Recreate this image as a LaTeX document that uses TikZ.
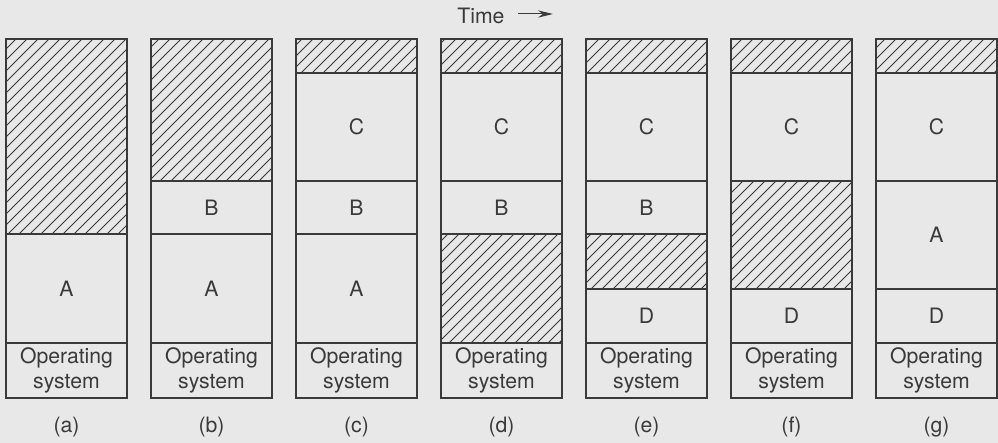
\documentclass[tikz,border=0pt]{standalone}
\usepackage{fontspec}
\setmainfont{TeX Gyre Heros}
\usetikzlibrary{arrows.meta}
\definecolor{bg}{HTML}{E8E8E8}
\definecolor{ink}{HTML}{3A3A3A}
\tikzset{
  boxline/.style={draw=ink,line width=0.9pt},
  hatchline/.style={draw=ink,line width=0.5pt},
  lbl/.style={text=ink,font=\fontsize{10.6}{12.2}\selectfont,inner sep=0pt,align=center},
  tarrow/.style={draw=ink,line width=0.5pt,-{Stealth[length=7.5pt,width=3.6pt]}}
}
\newcommand\hseg[3]{%
  \pgfmathsetmacro\cx{6+145*#1}%
  \begin{scope}
    \clip (\cx,#2) rectangle (\cx+121,#3);
    \foreach \hc in {0,11,...,1430} \draw[hatchline] (\hc-#3,#3) -- (\hc-#2,#2);
  \end{scope}
  \draw[boxline] (\cx,#2) rectangle (\cx+121,#3);}
\newcommand\lseg[5]{%
  \pgfmathsetmacro\cx{6+145*#1}%
  \draw[boxline] (\cx,#2) rectangle (\cx+121,#3);
  \node[lbl] (#5) at (\cx+60.5,{(#2+#3)/2}) {#4};}
\begin{document}
\begin{tikzpicture}[x=0.5pt,y=-0.5pt]
\fill[bg] (0,0) rectangle (998,443);
\useasboundingbox (0,0) rectangle (998,443);
% (a)
\hseg{0}{39}{234}
\lseg{0}{234}{343}{A}{a-A}
\lseg{0}{343}{398}{Operating\\system}{a-os}
% (b)
\hseg{1}{39}{181}
\lseg{1}{181}{234}{B}{b-B}
\lseg{1}{234}{343}{A}{b-A}
\lseg{1}{343}{398}{Operating\\system}{b-os}
% (c)
\hseg{2}{39}{73}
\lseg{2}{73}{181}{C}{c-C}
\lseg{2}{181}{234}{B}{c-B}
\lseg{2}{234}{343}{A}{c-A}
\lseg{2}{343}{398}{Operating\\system}{c-os}
% (d)
\hseg{3}{39}{73}
\lseg{3}{73}{181}{C}{d-C}
\lseg{3}{181}{234}{B}{d-B}
\hseg{3}{234}{343}
\lseg{3}{343}{398}{Operating\\system}{d-os}
% (e)
\hseg{4}{39}{73}
\lseg{4}{73}{181}{C}{e-C}
\lseg{4}{181}{234}{B}{e-B}
\hseg{4}{234}{289}
\lseg{4}{289}{343}{D}{e-D}
\lseg{4}{343}{398}{Operating\\system}{e-os}
% (f)
\hseg{5}{39}{73}
\lseg{5}{73}{181}{C}{f-C}
\hseg{5}{181}{289}
\lseg{5}{289}{343}{D}{f-D}
\lseg{5}{343}{398}{Operating\\system}{f-os}
% (g)
\hseg{6}{39}{73}
\lseg{6}{73}{181}{C}{g-C}
\lseg{6}{181}{289}{A}{g-A}
\lseg{6}{289}{343}{D}{g-D}
\lseg{6}{343}{398}{Operating\\system}{g-os}
% captions
\foreach \i/\t in {0/a,1/b,2/c,3/d,4/e,5/f,6/g}
  \node[lbl] (cap-\t) at (66.5+145*\i,427) {(\t)};
% time
\node[lbl,anchor=west] (time) at (457,16) {Time};
\coordinate (tend) at (553,14);
\draw[tarrow] ([xshift=6.5pt]time.east |- tend) -- (tend);
\end{tikzpicture}
\end{document}
